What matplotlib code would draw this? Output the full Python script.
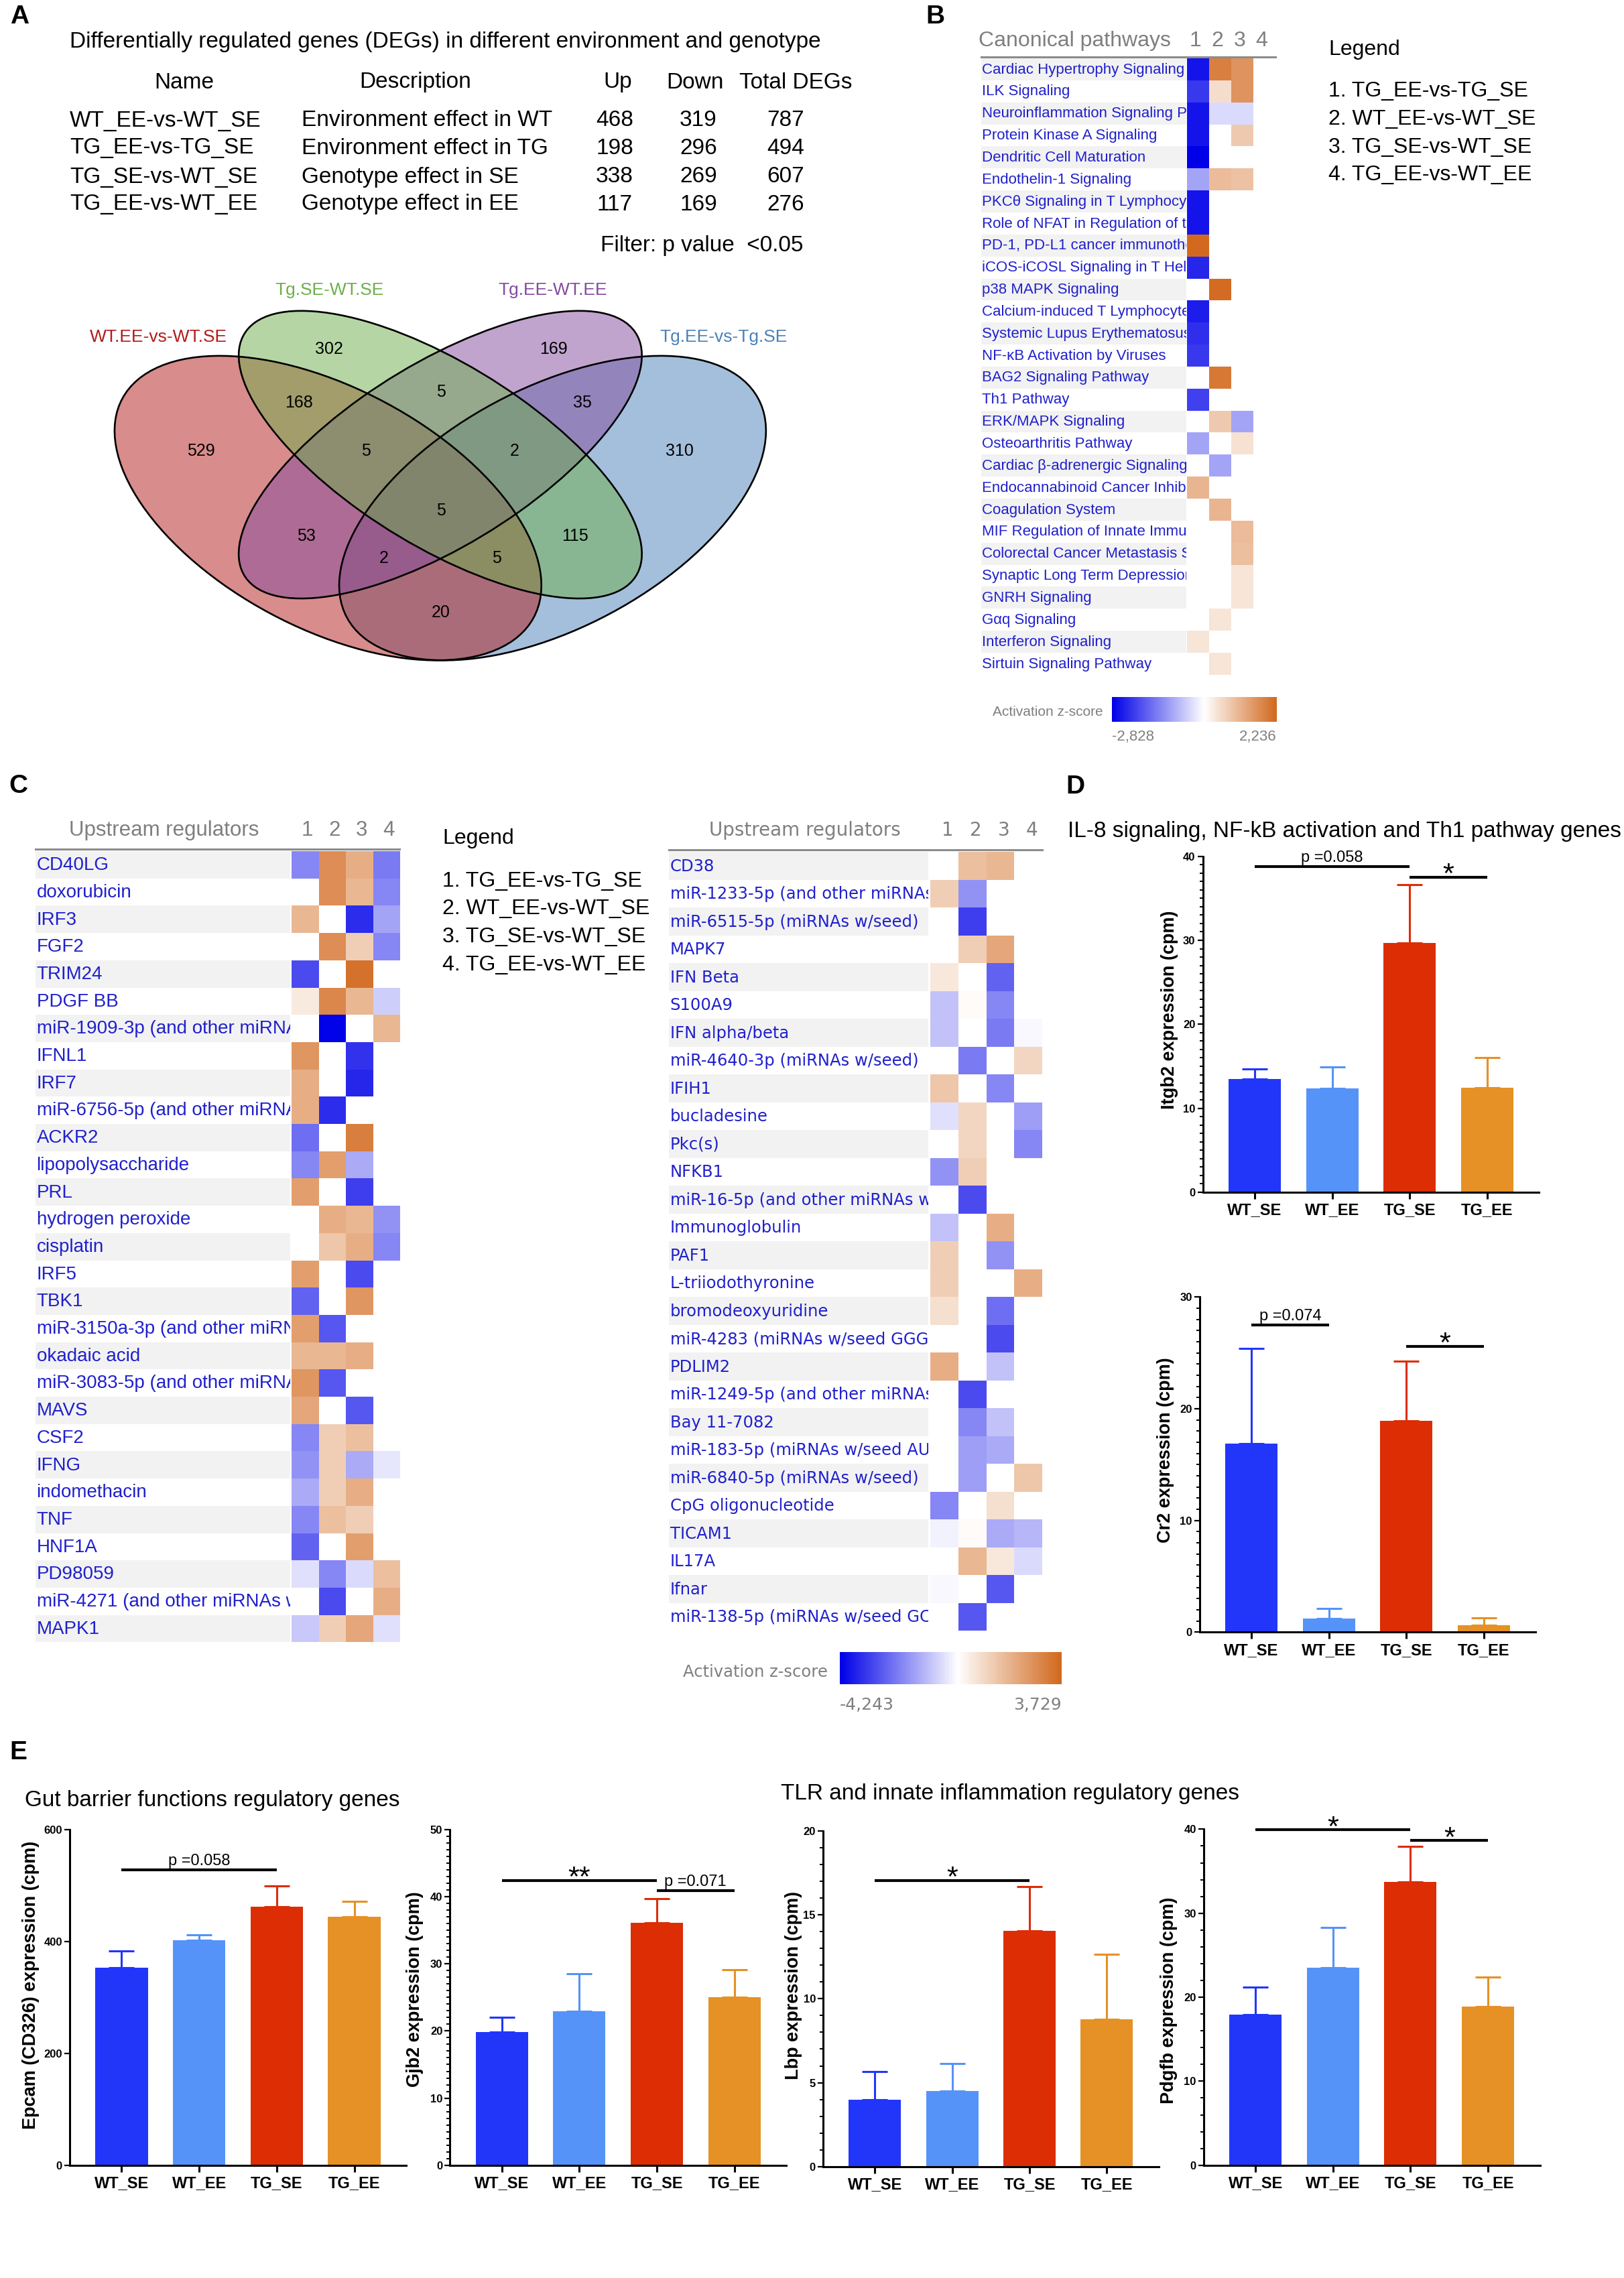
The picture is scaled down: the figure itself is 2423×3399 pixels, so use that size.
import numpy as np
import matplotlib
matplotlib.use("Agg")
import matplotlib.pyplot as plt
from matplotlib.patches import Ellipse
from matplotlib.colors import LinearSegmentedColormap, TwoSlopeNorm, to_rgba
from matplotlib.lines import Line2D
from matplotlib.ticker import MultipleLocator

plt.rcParams['font.family'] = ['Liberation Sans', 'DejaVu Sans']

W, H = 2423, 3399
nan = np.nan

# ---------------- data ----------------
# A: DEG table
deg_names = ["WT_EE-vs-WT_SE", "TG_EE-vs-TG_SE", "TG_SE-vs-WT_SE", "TG_EE-vs-WT_EE"]
deg_desc = ["Environment effect in WT", "Environment effect in TG",
            "Genotype effect in SE", "Genotype effect in EE"]
deg_up = [468, 198, 338, 117]
deg_down = [319, 296, 269, 169]
deg_total = [787, 494, 607, 276]

# A: venn
venn_sets = ["WT.EE-vs-WT.SE", "Tg.SE-WT.SE", "Tg.EE-WT.EE", "Tg.EE-vs-Tg.SE"]
venn_colors = ["#B31B1B", "#6DAF4B", "#854B9F", "#4B81B9"]
# region counts: A, B, C, D, AB, BC, CD, ABC, BCD, ABCD, AC, BD, ACD, ABD, AD
venn_counts = [529, 302, 169, 310, 168, 5, 35, 5, 2, 5, 53, 115, 2, 5, 20]

# B/C legend
comparisons = ["TG_EE-vs-TG_SE", "WT_EE-vs-WT_SE", "TG_SE-vs-WT_SE", "TG_EE-vs-WT_EE"]

# B: canonical pathways, z-scores for comparisons 1..4
cp_names = ["Cardiac Hypertrophy Signaling", "ILK Signaling",
            "Neuroinflammation Signaling Pathway", "Protein Kinase A Signaling",
            "Dendritic Cell Maturation", "Endothelin-1 Signaling",
            "PKCθ Signaling in T Lymphocytes", "Role of NFAT in Regulation of the Immune Response",
            "PD-1, PD-L1 cancer immunotherapy pathway", "iCOS-iCOSL Signaling in T Helper Cells",
            "p38 MAPK Signaling", "Calcium-induced T Lymphocyte Apoptosis",
            "Systemic Lupus Erythematosus In B Cell Signaling", "NF-κB Activation by Viruses",
            "BAG2 Signaling Pathway", "Th1 Pathway", "ERK/MAPK Signaling",
            "Osteoarthritis Pathway", "Cardiac β-adrenergic Signaling",
            "Endocannabinoid Cancer Inhibition Pathway", "Coagulation System",
            "MIF Regulation of Innate Immunity", "Colorectal Cancer Metastasis Signaling",
            "Synaptic Long Term Depression", "GNRH Signaling", "Gαq Signaling",
            "Interferon Signaling", "Sirtuin Signaling Pathway"]
cp_z = [[-2.6, 1.9, 1.6, nan], [-2.2, 0.5, 1.6, nan], [-2.6, -0.4, -0.4, nan],
        [-2.6, nan, 0.8, nan], [-2.828, nan, nan, nan], [-1.0, 1.0, 0.9, nan],
        [-2.6, nan, nan, nan], [-2.6, nan, nan, nan], [2.236, nan, nan, nan],
        [-2.4, nan, nan, nan], [nan, 2.2, nan, nan], [-2.5, nan, nan, nan],
        [-2.3, nan, nan, nan], [-2.2, nan, nan, nan], [nan, 2.0, nan, nan],
        [-2.1, nan, nan, nan], [nan, 0.8, -1.0, nan], [-1.0, nan, 0.45, nan],
        [nan, -1.0, nan, nan], [1.1, nan, nan, nan], [nan, 1.1, nan, nan],
        [nan, nan, 1.0, nan], [nan, nan, 0.95, nan], [nan, nan, 0.4, nan],
        [nan, nan, 0.4, nan], [nan, 0.4, nan, nan], [0.4, nan, nan, nan],
        [nan, 0.4, nan, nan]]
cp_range = (-2.828, 2.236)

# C: upstream regulators
ur1_names = ["CD40LG", "doxorubicin", "IRF3", "FGF2", "TRIM24", "PDGF BB",
             "miR-1909-3p (and other miRNAs w/seed)", "IFNL1", "IRF7",
             "miR-6756-5p (and other miRNAs w/seed)", "ACKR2", "lipopolysaccharide", "PRL",
             "hydrogen peroxide", "cisplatin", "IRF5", "TBK1",
             "miR-3150a-3p (and other miRNAs w/seed)", "okadaic acid",
             "miR-3083-5p (and other miRNAs w/seed)", "MAVS", "CSF2", "IFNG",
             "indomethacin", "TNF", "HNF1A", "PD98059",
             "miR-4271 (and other miRNAs w/seed)", "MAPK1"]
ur1_z = [[-2.0, 2.8, 2.0, -2.2], [nan, 2.8, 1.8, -2.0], [1.8, nan, -3.5, -1.5],
         [nan, 2.8, 1.2, -2.0], [-3.0, nan, 3.5, nan], [0.5, 3.0, 1.8, -0.8],
         [nan, -4.2, nan, 1.8], [2.6, nan, -3.4, nan], [2.0, nan, -3.6, nan],
         [2.0, -3.5, nan, nan], [-2.4, nan, 3.2, nan], [-2.0, 2.4, -1.4, nan],
         [2.4, nan, -3.2, nan], [nan, 2.0, 1.8, -1.8], [nan, 1.4, 2.0, -2.0],
         [2.4, nan, -3.0, nan], [-2.6, nan, 2.6, nan], [2.4, -2.8, nan, nan],
         [1.8, 1.8, 2.0, nan], [2.6, -2.8, nan, nan], [2.2, nan, -2.8, nan],
         [-2.0, 1.2, 1.6, nan], [-1.8, 1.2, -1.4, -0.4], [-1.4, 1.2, 2.0, nan],
         [-2.0, 1.6, 1.2, nan], [-2.6, nan, 2.4, nan], [-0.5, -2.0, -0.6, 1.6],
         [nan, -3.0, nan, 2.0], [-0.9, 1.2, 2.2, -0.5]]
ur2_names = ["CD38", "miR-1233-5p (and other miRNAs w/seed)", "miR-6515-5p (miRNAs w/seed)",
             "MAPK7", "IFN Beta", "S100A9", "IFN alpha/beta", "miR-4640-3p (miRNAs w/seed)",
             "IFIH1", "bucladesine", "Pkc(s)", "NFKB1", "miR-16-5p (and other miRNAs w/seed)",
             "Immunoglobulin", "PAF1", "L-triiodothyronine", "bromodeoxyuridine",
             "miR-4283 (miRNAs w/seed GGGGCUC)", "PDLIM2", "miR-1249-5p (and other miRNAs)",
             "Bay 11-7082", "miR-183-5p (miRNAs w/seed AUGGCAC)", "miR-6840-5p (miRNAs w/seed)",
             "CpG oligonucleotide", "TICAM1", "IL17A", "Ifnar",
             "miR-138-5p (miRNAs w/seed GCUGGUG)"]
ur2_z = [[nan, 1.6, 1.8, nan], [1.2, -1.8, nan, nan], [nan, -3.2, nan, nan],
         [nan, 1.2, 2.2, nan], [0.6, nan, -2.6, nan], [-1.0, 0.1, -2.0, nan],
         [-1.0, nan, -2.2, -0.1], [nan, -2.2, nan, 1.0], [1.4, nan, -2.0, nan],
         [-0.5, 1.0, nan, -1.6], [nan, 1.0, nan, -2.0], [-1.8, 1.2, nan, nan],
         [nan, -3.0, nan, nan], [-1.0, nan, 2.0, nan], [1.2, nan, -1.8, nan],
         [1.2, nan, nan, 2.0], [0.8, nan, -2.4, nan], [nan, nan, -3.0, nan],
         [2.0, nan, -1.0, nan], [nan, -3.0, nan, nan], [nan, -2.0, -1.0, nan],
         [nan, -1.6, -1.4, nan], [nan, -1.6, nan, 1.4], [-2.0, nan, 0.8, nan],
         [-0.2, 0.1, -1.4, -1.2], [nan, 1.8, 0.6, -0.6], [-0.1, nan, -2.8, nan],
         [nan, -2.8, nan, nan]]
ur_range = (-4.243, 3.729)

# D/E: bar charts (mean and SEM, cpm)
groups = ["WT_SE", "WT_EE", "TG_SE", "TG_EE"]
bar_colors = ["#2236FA", "#5593F8", "#DC2D05", "#E59125"]
itgb2_mean = [13.5, 12.35, 29.7, 12.45]
itgb2_sem = [1.2, 2.6, 6.9, 3.6]
cr2_mean = [16.9, 1.2, 18.9, 0.6]
cr2_sem = [8.5, 0.9, 5.35, 0.7]
epcam_mean = [353, 402.5, 462.6, 444.8]
epcam_sem = [30, 9.5, 36.4, 26.7]
gjb2_mean = [19.86, 22.95, 36.15, 25.0]
gjb2_sem = [2.22, 5.62, 3.61, 4.1]
lbp_mean = [3.97, 4.49, 14.05, 8.78]
lbp_sem = [1.7, 1.65, 2.61, 3.85]
pdgfb_mean = [17.9, 23.5, 33.7, 18.9]
pdgfb_sem = [3.3, 4.8, 4.25, 3.5]

# ---------------- helpers ----------------
fig = plt.figure(figsize=(W / 100, H / 100), dpi=100)


def px_axes(l, t, r, b):
    return fig.add_axes([l / W, 1 - b / H, (r - l) / W, (b - t) / H])


def ftext(x, y, s, **kw):
    kw.setdefault('va', 'center')
    return fig.text(x / W, 1 - y / H, s, **kw)


def fline(x0, x1, y, **kw):
    fig.add_artist(Line2D([x0 / W, x1 / W], [1 - y / H, 1 - y / H],
                          transform=fig.transFigure, **kw))


zcmap = LinearSegmentedColormap.from_list("ipa", ["#0000E8", "#FFFFFF", "#D2691E"])
zcmap.set_bad("white")
label_blue = "#2020CC"
gray = "#7F7F7F"


def heatmap(names, z, zr, lab_l, lab_r, cell_l, cell_r, top, row_h, fam, fs):
    n = len(names)
    bottom = top + n * row_h
    lab = px_axes(lab_l, top, lab_r, bottom)
    lab.set_xlim(0, 1)
    lab.set_ylim(n, 0)
    lab.axis('off')
    for i, nm in enumerate(names):
        if i % 2 == 0:
            lab.axhspan(i, i + 1, color="#F2F2F2", lw=0)
        lab.text(0.004, i + 0.52, nm, ha='left', va='center', color=label_blue,
                 fontsize=fs, family=fam, clip_on=True)
    hax = px_axes(cell_l, top, cell_r, bottom)
    data = np.ma.masked_invalid(np.array(z, dtype=float))
    hax.pcolormesh(np.arange(5), np.arange(n + 1), data, cmap=zcmap,
                   norm=TwoSlopeNorm(0, zr[0], zr[1]))
    hax.set_xlim(0, 4)
    hax.set_ylim(n, 0)
    hax.axis('off')
    return [cell_l + (k + 0.5) * (cell_r - cell_l) / 4 for k in range(4)]


def zbar(l, t, r, b, zr):
    cax = px_axes(l, t, r, b)
    grad = np.linspace(zr[0], zr[1], 300)[None, :]
    cax.imshow(grad, aspect='auto', cmap=zcmap, norm=TwoSlopeNorm(0, zr[0], zr[1]),
               extent=[zr[0], zr[1], 0, 1])
    cax.axis('off')


def fmt_z(v):
    return f"{v:.3f}".replace(".", ",")


def bar_panel(rect, means, sems, ymax, major, minor, sigs):
    ax = px_axes(*rect)
    x = np.arange(len(groups))
    ax.bar(x, means, width=0.675, color=bar_colors, zorder=2)
    for xi, m, s, c in zip(x, means, sems, bar_colors):
        ax.errorbar(xi, m, yerr=[[0], [s]], color=c, capsize=14, elinewidth=2.2,
                    capthick=2.2, zorder=3)
    ax.set_xlim(-0.67, 3.67)
    ax.set_ylim(0, ymax)
    for sp in ['top', 'right']:
        ax.spines[sp].set_visible(False)
    for sp in ['left', 'bottom']:
        ax.spines[sp].set_linewidth(2.2)
    ax.yaxis.set_major_locator(MultipleLocator(major))
    if minor:
        ax.yaxis.set_minor_locator(MultipleLocator(minor))
    ax.set_xticks(x)
    ax.set_xticklabels(groups, fontsize=17, fontweight='bold')
    ax.tick_params(axis='x', length=7, width=2.2, pad=4)
    ax.tick_params(axis='y', which='major', length=6, width=1.6, pad=2,
                   labelsize=12)
    ax.tick_params(axis='y', which='minor', length=3.5, width=1.4)
    for t in ax.get_yticklabels():
        t.set_fontweight('bold')
    for x0, x1, y, txt in sigs:
        ax.plot([x0, x1], [y, y], color='black', lw=3, clip_on=False, solid_capstyle='butt')
        if txt.startswith('p'):
            ax.annotate(txt, ((x0 + x1) / 2, y), xytext=(0, 5), textcoords='offset points',
                        ha='center', va='baseline', fontsize=17, annotation_clip=False)
        else:
            ax.annotate(txt, ((x0 + x1) / 2, y), xytext=(0, -6), textcoords='offset points',
                        ha='center', va='baseline', fontsize=31, annotation_clip=False)
    return ax


# ---------------- panel letters ----------------
for s, x, y in [("A", 15, 25), ("B", 1381, 25), ("C", 13, 1173), ("D", 1590, 1174), ("E", 14, 2615)]:
    ftext(x, y, s, fontsize=28, fontweight='bold', ha='left')

# ---------------- A: table ----------------
ftext(104, 62, "Differentially regulated genes (DEGs) in different environment and genotype",
      fontsize=24, ha='left')
for s, x in zip(["Name", "Description", "Up", "Down", "Total DEGs"], [275, 620, 922, 1037, 1187]):
    ftext(x, 123, s, fontsize=24, ha='center')
for i, y in enumerate([180, 221, 264, 305]):
    ftext(104, y, deg_names[i], fontsize=24, ha='left')
    ftext(450, y, deg_desc[i], fontsize=24, ha='left')
    ftext(917, y, str(deg_up[i]), fontsize=24, ha='center')
    ftext(1042, y, str(deg_down[i]), fontsize=24, ha='center')
    ftext(1172, y, str(deg_total[i]), fontsize=24, ha='center')
ftext(896, 367, "Filter: p value  <0.05", fontsize=24, ha='left')

# ---------------- A: venn ----------------
vax = px_axes(98.4, 335.7, 1215.4, 1132.7)
vax.set_xlim(0, 1)
vax.set_ylim(0, 1)
vax.axis('off')
ellipses = [(0.35, 0.47, 0.35, 0.20, 135), (0.50, 0.57, 0.35, 0.15, 135),
            (0.50, 0.57, 0.35, 0.15, 45), (0.65, 0.47, 0.35, 0.20, 45)]
# fill order as in the original: blue, red, purple, green
for k in [3, 0, 2, 1]:
    cx, cy, a, b, ang = ellipses[k]
    vax.add_patch(Ellipse((cx, cy), 2 * a, 2 * b, angle=ang,
                          facecolor=to_rgba(venn_colors[k], 0.5), edgecolor='none'))
for (cx, cy, a, b, ang) in ellipses:
    vax.add_patch(Ellipse((cx, cy), 2 * a, 2 * b, angle=ang, fill=False,
                          edgecolor='black', lw=1.9))
venn_pos = [(0.180, 0.577), (0.351, 0.767), (0.651, 0.767), (0.820, 0.577),
            (0.311, 0.667), (0.501, 0.687), (0.690, 0.667), (0.401, 0.577),
            (0.599, 0.577), (0.501, 0.465), (0.321, 0.417), (0.680, 0.417),
            (0.425, 0.376), (0.575, 0.376), (0.501, 0.275)]
for cnt, (ux, uy) in zip(venn_counts, venn_pos):
    vax.text(ux, uy, str(cnt), ha='center', va='center', fontsize=18)
for s, col, (ux, uy) in zip(venn_sets, venn_colors,
                            [(0.124, 0.790), (0.352, 0.878), (0.650, 0.878), (0.878, 0.790)]):
    vax.text(ux, uy, s, ha='center', va='center', fontsize=19, color=col, clip_on=False)

# ---------------- B ----------------
cx_b = heatmap(cp_names, cp_z, cp_range, 1464, 1770, 1771, 1903, 87, 32.85, 'Liberation Sans', 16)
ftext(1460, 61, "Canonical pathways", fontsize=23, color=gray, ha='left')
for k, x in enumerate(cx_b):
    ftext(x - 4, 61, str(k + 1), fontsize=23, color=gray, ha='center')
fline(1464, 1903, 85, color="#8C8C8C", lw=2.2)
ftext(1982, 74, "Legend", fontsize=23, ha='left')
for k, y in enumerate([136, 178, 220, 261]):
    ftext(1982, y, f"{k + 1}. {comparisons[k]}", fontsize=23, ha='left')
zbar(1659, 1040, 1905, 1077, cp_range)
ftext(1646, 1062, "Activation z-score", fontsize=15, color=gray, ha='right')
ftext(1659, 1099, fmt_z(cp_range[0]), fontsize=16, color=gray, ha='left')
ftext(1905, 1099, fmt_z(cp_range[1]), fontsize=16, color=gray, ha='right')

# ---------------- C ----------------
cx_c1 = heatmap(ur1_names, ur1_z, ur_range, 53, 433, 435, 597, 1270, 40.7, 'Liberation Sans', 20)
ftext(103, 1239, "Upstream regulators", fontsize=22.5, color=gray, ha='left')
for k, x in enumerate(cx_c1):
    ftext(x + 3, 1239, str(k + 1), fontsize=22.5, color=gray, ha='center')
fline(53, 596, 1267, color="#8C8C8C", lw=2.2)
ftext(660, 1251, "Legend", fontsize=23, ha='left')
for k, y in enumerate([1315, 1356, 1398, 1440]):
    ftext(660, y, f"{k + 1}. {comparisons[k]}", fontsize=23, ha='left')

cx_c2 = heatmap(ur2_names, ur2_z, ur_range, 998, 1385, 1388, 1555, 1271, 41.5, 'DejaVu Sans', 17.5)
ftext(1058, 1239, "Upstream regulators", fontsize=20, color=gray, ha='left', family='DejaVu Sans')
for k, x in enumerate(cx_c2):
    ftext(x + 5, 1239, str(k + 1), fontsize=20, color=gray, ha='center', family='DejaVu Sans')
fline(998, 1555, 1268, color="#8C8C8C", lw=2.2)
zbar(1253, 2465, 1584, 2513, ur_range)
ftext(1235, 2495, "Activation z-score", fontsize=17.5, color=gray, ha='right', family='DejaVu Sans')
ftext(1253, 2544, fmt_z(ur_range[0]), fontsize=18, color=gray, ha='left', family='DejaVu Sans')
ftext(1584, 2544, fmt_z(ur_range[1]), fontsize=18, color=gray, ha='right', family='DejaVu Sans')

# ---------------- D ----------------
ftext(1593, 1241, "IL-8 signaling, NF-kB activation and Th1 pathway genes", fontsize=24, ha='left')
bar_panel((1794.6, 1277.7, 2296, 1779), itgb2_mean, itgb2_sem, 40, 10, 1,
          [(0, 2, 38.8, "p =0.058"), (2, 3, 37.5, "*")])
ftext(1745, 1507, "Itgb2 expression (cpm)", fontsize=19.5, fontweight='bold', rotation=90, ha='center')
bar_panel((1789.7, 1935.4, 2291, 2435.4), cr2_mean, cr2_sem, 30, 10, 1,
          [(0, 1, 27.5, "p =0.074"), (2, 3, 25.6, "*")])
ftext(1739.5, 2164, "Cr2 expression (cpm)", fontsize=19.5, fontweight='bold', rotation=90, ha='center')

# ---------------- E ----------------
ftext(37, 2686, "Gut barrier functions regulatory genes", fontsize=24, ha='left')
ftext(1165, 2676, "TLR and innate inflammation regulatory genes", fontsize=24, ha='left')
bar_panel((104, 2730, 606, 3230.7), epcam_mean, epcam_sem, 600, 200, None,
          [(0, 2, 528, "p =0.058")])
ftext(46, 2962, "Epcam (CD326) expression (cpm)", fontsize=19.5, fontweight='bold', rotation=90, ha='center')
bar_panel((671.5, 2730, 1173, 3230.7), gjb2_mean, gjb2_sem, 50, 10, 1,
          [(0, 2, 42.46, "**"), (2, 3, 40.9, "p =0.071")])
ftext(619, 2968, "Gjb2 expression (cpm)", fontsize=19.5, fontweight='bold', rotation=90, ha='center')
bar_panel((1228, 2731.6, 1728.7, 3232.9), lbp_mean, lbp_sem, 20, 5, 1,
          [(0, 2, 17.03, "*")])
ftext(1184, 2962, "Lbp expression (cpm)", fontsize=19.5, fontweight='bold', rotation=90, ha='center')
bar_panel((1795.8, 2729.4, 2297.5, 3230.7), pdgfb_mean, pdgfb_sem, 40, 10, 2,
          [(0, 2, 39.93, "*"), (2, 3, 38.64, "*")])
ftext(1743.6, 2985, "Pdgfb expression (cpm)", fontsize=19.5, fontweight='bold', rotation=90, ha='center')

fig.savefig("out.png", dpi=100)
